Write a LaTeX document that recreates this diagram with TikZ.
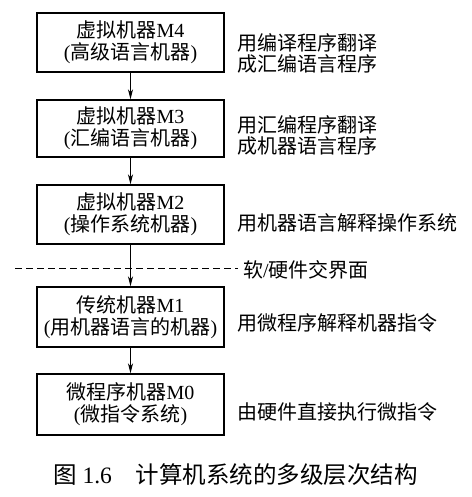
\documentclass[tikz,border=0pt]{standalone}
\usepackage{fontspec}
\setmainfont{Liberation Serif}
\newfontfamily\cjk{Noto Sans CJK SC}
\usetikzlibrary{arrows.meta}
\begin{document}
\begin{tikzpicture}[x=1pt,y=-1pt,
  lvl/.style={draw,line width=1.4pt,minimum width=187pt,inner sep=0pt,align=center,
    font=\fontsize{20}{22}\selectfont},
  desc/.style={anchor=west,inner sep=0pt,align=left,font=\fontsize{20}{21}\selectfont\cjk},
  arr/.style={line width=0.9pt,-{Stealth[length=10pt,width=5pt,inset=3pt]}}]
\useasboundingbox (0,0) rectangle (471,497);
\node[lvl,minimum height=59pt] (m4) at (130.5,42.5) {{\cjk 虚拟机器}M4\\({\cjk 高级语言机器})};
\node[lvl,minimum height=57pt] (m3) at (130.5,128.5) {{\cjk 虚拟机器}M3\\({\cjk 汇编语言机器})};
\node[lvl,minimum height=59pt] (m2) at (130.5,214.5) {{\cjk 虚拟机器}M2\\({\cjk 操作系统机器})};
\node[lvl,minimum height=60pt] (m1) at (130.5,317) {{\cjk 传统机器}M1\\({\cjk 用机器语言的机器})};
\node[lvl,minimum height=61pt] (m0) at (130.5,404.5) {{\cjk 微程序机器}M0\\({\cjk 微指令系统})};
\node[desc] (d4) at (237,53) {用编译程序翻译\\成汇编语言程序};
\node[desc] (d3) at (237,135.5) {用汇编程序翻译\\成机器语言程序};
\node[desc] (d2) at (237,223) {用机器语言解释操作系统};
\node[desc] (d1) at (237,323) {用微程序解释机器指令};
\node[desc] (d0) at (237,412) {由硬件直接执行微指令};
\coordinate (dl) at (15,268);
\coordinate (dr) at (238,268);
\draw[line width=0.9pt,dash pattern=on 7pt off 4pt] (dl) -- (dr);
\node[anchor=west,inner sep=0pt,font=\fontsize{20}{21}\selectfont] (sw) at (243,270) {{\cjk 软}/{\cjk 硬件交界面}};
\draw[arr] (m4.south) -- (m3.north);
\draw[arr] (m3.south) -- (m2.north);
\draw[arr] (m2.south) -- (m1.north);
\draw[arr] (m1.south) -- (m0.north);
\node[anchor=west,inner sep=0pt,font=\fontsize{23.5}{26}\selectfont] (cap) at (53,475) {{\cjk 图} 1.6\hspace{24pt}{\cjk 计算机系统的多级层次结构}};
\end{tikzpicture}
\end{document}
